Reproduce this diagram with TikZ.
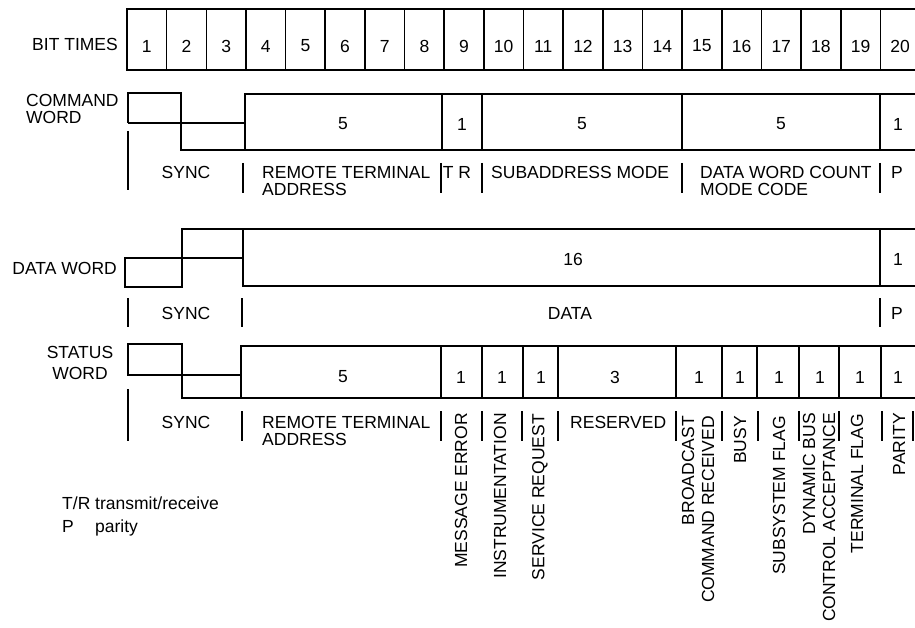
\documentclass[tikz,border=0pt]{standalone}
\usepackage{fontspec}
\setmainfont{Liberation Sans}
\usetikzlibrary{positioning}

\begin{document}
\begin{tikzpicture}[
  x=1pt, y=-1pt,
  font=\fontsize{17.5}{17}\selectfont,
  wave/.style={line width=1.6pt, line join=miter},
  field/.style={line width=1.6pt},
  sepline/.style={line width=2pt},
  num/.style={inner sep=0pt},
  lbl/.style={inner sep=0pt, align=left},
  vlbl/.style={inner sep=0pt, rotate=90, anchor=east, align=right,
    font=\fontsize{17.5}{20}\selectfont},
]
\useasboundingbox (0,0) rectangle (915,628);

% bit times
\node[lbl, anchor=east] (bitlabel) at (118,44) {BIT TIMES};
\draw[field] (915,9) -- (127,9) -- (127,70) -- (915,70);
\foreach \k in {1,...,19}
  \draw[field] ({127+39.65*\k},9) -- ({127+39.65*\k},70);
\foreach \k in {1,...,20}
  \node[num] (bit\k) at ({127+39.65*(\k-0.5)},46) {\k};

% command word
\node[lbl, anchor=north west] (cmdlabel) at (26,94) {COMMAND\\WORD};
\draw[wave] (128,123) -- (128,93) -- (181,93) -- (181,150) -- (245,150);
\draw[wave] (128,123) -- (245,123);
\draw[field] (915,94) -- (245,94) -- (245,150) -- (915,150);
\foreach \x in {442,482,682,880}
  \draw[field] (\x,94) -- (\x,150);
\foreach \x/\v [count=\i] in {343/5,462/1,582/5,781/5,898/1}
  \node[num] (cmdval\i) at (\x,124) {\v};

\draw[sepline] (128,131) -- (128,190);
\foreach \x in {243,441,482,682,880}
  \draw[sepline] (\x,163) -- (\x,193);
\node[lbl, anchor=north] (cmdsync) at (186,166) {SYNC};
\node[lbl, anchor=north west] (cmdrta) at (262,166) {REMOTE TERMINAL\\ADDRESS};
\node[lbl, anchor=north] (cmdtr) at (457,166) {T R};
\node[lbl, anchor=north west] (cmdsub) at (491,166) {SUBADDRESS MODE};
\node[lbl, anchor=north west] (cmdcount) at (700,166) {DATA WORD COUNT\\MODE CODE};
\node[lbl, anchor=north] (cmdpar) at (897,166) {P};

% data word
\node[lbl, anchor=east] (datalabel) at (117,268) {DATA WORD};
\draw[wave] (125,258) rectangle (182,287);
\draw[wave] (182,229) rectangle (243,258);
\draw[field] (915,229) -- (243,229) -- (243,286) -- (915,286);
\draw[field] (880,229) -- (880,286);
\node[num] (dataval1) at (573,259) {16};
\node[num] (dataval2) at (898,259) {1};

\foreach \x in {128,242,880}
  \draw[sepline] (\x,298) -- (\x,327);
\node[lbl] (datasync) at (186,313) {SYNC};
\node[lbl] (databits) at (570,313) {DATA};
\node[lbl] (datapar) at (897,313) {P};

% status word
\node[lbl, anchor=north, align=center] (statlabel) at (80,346) {STATUS\\[4pt]WORD};
\draw[wave] (128,344) rectangle (182,375);
\draw[wave] (182,375) rectangle (241,398);
\draw[field] (915,346) -- (241,346) -- (241,398) -- (915,398);
\foreach \x in {441,482,523,558,676,722,757,799,839,881}
  \draw[field] (\x,346) -- (\x,398);
\foreach \x/\v [count=\i] in {343/5,461/1,502/1,541/1,615/3,699/1,740/1,779/1,820/1,860/1,898/1}
  \node[num] (statval\i) at (\x,377) {\v};

\draw[sepline] (128,389) -- (128,441);
\foreach \x in {242,441,482,522,558,676,722,758,799,839,882,913}
  \draw[sepline] (\x,411) -- (\x,441);
\node[lbl, anchor=north] (statsync) at (186,416) {SYNC};
\node[lbl, anchor=north west] (statrta) at (262,416) {REMOTE TERMINAL\\ADDRESS};
\node[lbl, anchor=north west] (statres) at (570,416) {RESERVED};
\node[vlbl] (msgerr) at (461,413) {MESSAGE ERROR};
\node[vlbl] (instr) at (500,413) {INSTRUMENTATION};
\node[vlbl] (srvreq) at (540,414) {SERVICE REQUEST};
\node[vlbl] (bcast) at (698,416) {BROADCAST\\COMMAND RECEIVED};
\node[vlbl] (busy) at (740,416) {BUSY};
\node[vlbl] (subsys) at (779,416) {SUBSYSTEM FLAG};
\node[vlbl] (dynbus) at (819,413) {DYNAMIC BUS\\CONTROL ACCEPTANCE};
\node[vlbl] (termflag) at (857,414) {TERMINAL FLAG};
\node[vlbl] (parity) at (899,413) {PARITY};

% legend
\node[lbl, anchor=north west, font=\fontsize{17.5}{23}\selectfont] (legend) at (62,497)
  {T/R transmit/receive\\\makebox[33pt][l]{P}parity};

\end{tikzpicture}
\end{document}
